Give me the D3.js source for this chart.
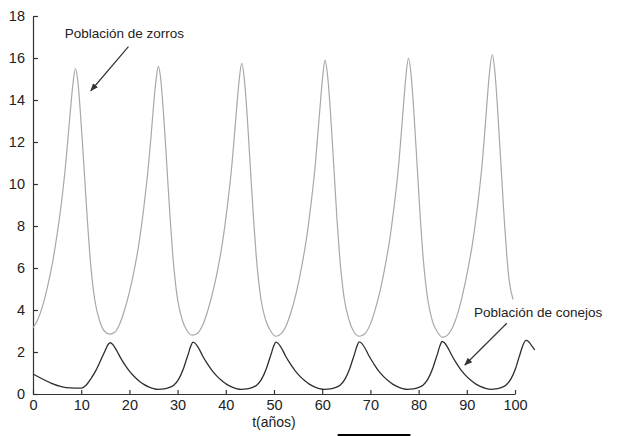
<!DOCTYPE html>
<html>
<head>
<meta charset="utf-8">
<script src="https://cdn.jsdelivr.net/npm/d3@7"></script>
<style>
body { margin: 0; background: #fff; }
svg { display: block; }
</style>
</head>
<body>
<script>
var margin = {top: 16, right: 109, bottom: 42, left: 33};
var W = 624, H = 436;
var w = W - margin.left - margin.right;
var h = H - margin.top - margin.bottom;

// poblacion de zorros (curva gris)
var tZorros = [0, 1, 2, 3, 4, 5, 6, 6.8, 7.3, 7.8, 8.3, 8.8, 9.3, 9.8, 10.3, 10.8, 11.3, 11.8, 12.3, 12.8, 13.8, 14.8, 15.9,
  17, 18, 19, 20, 21, 22, 23, 24, 24.5, 25, 25.5, 26, 26.5, 27, 27.5, 28, 28.5, 29, 29.5, 30, 31, 32, 33.1,
  34.3, 35.3, 36.3, 37.3, 38.3, 39.3, 40.3, 41.3, 41.8, 42.3, 42.8, 43.3, 43.8, 44.3, 44.8, 45.3, 45.8, 46.3, 46.8, 47.3, 48.3, 49.3, 50.4,
  51.6, 52.6, 53.6, 54.6, 55.6, 56.6, 57.6, 58.6, 59.1, 59.6, 60.1, 60.6, 61.1, 61.6, 62.1, 62.6, 63.1, 63.6, 64.1, 64.6, 65.6, 66.6, 67.7,
  68.9, 69.9, 70.9, 71.9, 72.9, 73.9, 74.9, 75.9, 76.4, 76.9, 77.4, 77.9, 78.4, 78.9, 79.4, 79.9, 80.4, 80.9, 81.4, 81.9, 82.9, 83.9, 85.0,
  86.2, 87.2, 88.2, 89.2, 90.2, 91.2, 92.2, 93.2, 93.7, 94.2, 94.7, 95.3, 95.8, 96.3, 96.8, 97.3, 97.8, 98.3, 98.8, 99.6];
var zorros = [3.15, 3.55, 4.2, 5.1, 6.2, 7.6, 9.3, 11.0, 12.3, 13.6, 14.8, 15.5, 14.9, 13.5, 11.8, 10.0, 8.2, 6.6, 5.4, 4.5, 3.5, 3.0, 2.85,
  2.95, 3.35, 4.0, 4.85, 5.9, 7.2, 8.9, 11.0, 12.3, 13.7, 14.9, 15.6, 15.0, 13.6, 11.9, 10.0, 8.2, 6.6, 5.4, 4.5, 3.5, 3.0, 2.8,
  2.93, 3.33, 4.0, 4.85, 5.9, 7.2, 8.9, 11.0, 12.35, 13.75, 15.0, 15.75, 15.1, 13.7, 11.9, 10.0, 8.2, 6.6, 5.4, 4.5, 3.5, 3.0, 2.75,
  2.9, 3.3, 3.95, 4.8, 5.9, 7.2, 8.9, 11.0, 12.4, 13.8, 15.1, 15.9, 15.2, 13.8, 12.0, 10.1, 8.2, 6.6, 5.4, 4.5, 3.5, 2.95, 2.75,
  2.88, 3.28, 3.95, 4.8, 5.9, 7.2, 8.9, 11.0, 12.4, 13.85, 15.2, 16.0, 15.3, 13.85, 12.0, 10.1, 8.2, 6.6, 5.4, 4.5, 3.45, 2.95, 2.7,
  2.85, 3.25, 3.9, 4.8, 5.9, 7.2, 8.9, 11.0, 12.4, 13.9, 15.3, 16.15, 15.4, 13.9, 12.0, 10.1, 8.2, 6.6, 5.4, 4.5];

// poblacion de conejos (curva oscura)
var tConejos = [0, 7.7, 10.1, 11, 12, 13, 14, 15, 15.5, 16,
  16.5, 17, 17.5, 18, 19, 20, 21, 22, 23, 24, 25, 26,
  27.2, 28.2, 29.2, 30.2, 31.2, 31.7, 32.2, 32.7, 33.2,
  33.7, 34.2, 34.7, 35.2, 36.2, 37.2, 38.2, 39.2, 40.2, 41.2, 42.2, 43.2,
  44.4, 45.4, 46.4, 47.4, 48.4, 48.9, 49.4, 49.9, 50.4,
  50.9, 51.4, 51.9, 52.4, 53.4, 54.4, 55.4, 56.4, 57.4, 58.4, 59.4, 60.5,
  61.7, 62.7, 63.7, 64.7, 65.7, 66.2, 66.7, 67.2, 67.7,
  68.2, 68.7, 69.2, 69.7, 70.7, 71.7, 72.7, 73.7, 74.7, 75.7, 76.7, 77.7,
  78.9, 79.9, 80.9, 81.9, 82.9, 83.4, 83.9, 84.4, 84.9,
  85.4, 85.9, 86.4, 86.9, 87.9, 88.9, 89.9, 90.9, 91.9, 92.9, 93.9, 94.9,
  96.1, 97.1, 98.1, 99.1, 100.1, 100.6, 101.1, 101.6, 102.3, 102.8, 103.4, 104.1];
var conejos = [0.95, 0.29, 0.28, 0.42, 0.72, 1.1, 1.58, 2.08, 2.33, 2.44,
  2.37, 2.21, 2.01, 1.79, 1.41, 1.09, 0.83, 0.62, 0.46, 0.34, 0.26, 0.22,
  0.24, 0.3, 0.42, 0.7, 1.2, 1.55, 1.9, 2.26, 2.47,
  2.4, 2.24, 2.04, 1.81, 1.43, 1.1, 0.84, 0.63, 0.46, 0.34, 0.26, 0.22,
  0.24, 0.3, 0.42, 0.7, 1.2, 1.55, 1.9, 2.26, 2.47,
  2.4, 2.24, 2.04, 1.81, 1.43, 1.1, 0.84, 0.63, 0.46, 0.34, 0.26, 0.22,
  0.24, 0.3, 0.42, 0.7, 1.2, 1.55, 1.9, 2.27, 2.48,
  2.41, 2.25, 2.05, 1.82, 1.44, 1.1, 0.84, 0.63, 0.46, 0.34, 0.26, 0.22,
  0.24, 0.3, 0.42, 0.7, 1.2, 1.55, 1.9, 2.28, 2.5,
  2.43, 2.27, 2.06, 1.83, 1.45, 1.11, 0.85, 0.64, 0.47, 0.35, 0.27, 0.22,
  0.24, 0.3, 0.42, 0.7, 1.2, 1.57, 1.94, 2.3, 2.55, 2.5, 2.32, 2.1];

var xTicks = [0, 10, 20, 30, 40, 50, 60, 70, 80, 90, 100];
var yTicks = [0, 2, 4, 6, 8, 10, 12, 14, 16, 18];
var xLabel = "t(años)";

// anotaciones en coordenadas de datos: texto, inicio y punta de la flecha
var notaZorros = {texto: "Población de zorros", tx: 6.6, ty: 16.95, x1: 19.8, y1: 16.54, x2: 12.0, y2: 14.44};
var notaConejos = {texto: "Población de conejos", tx: 91.5, ty: 3.68, x1: 98.3, y1: 3.37, x2: 89.6, y2: 1.38};

var xScale = d3.scaleLinear().domain([0, 100]).range([0, w]);
var yScale = d3.scaleLinear().domain([0, 18]).range([h, 0]);

var svg = d3.select("body").append("svg")
  .attr("width", W)
  .attr("height", H)
  .style("font-family", "'Liberation Sans', Arial, sans-serif");

svg.append("defs").append("marker")
  .attr("id", "flecha")
  .attr("viewBox", "0 0 10 10")
  .attr("refX", 9).attr("refY", 5)
  .attr("markerWidth", 8).attr("markerHeight", 8)
  .attr("markerUnits", "userSpaceOnUse")
  .attr("orient", "auto")
  .append("path")
  .attr("d", "M0,1L10,5L0,9Z")
  .attr("fill", "#333");

var g = svg.append("g")
  .attr("transform", "translate(" + margin.left + "," + margin.top + ")");

var xAxis = d3.axisBottom(xScale).tickValues(xTicks).tickSizeInner(-4).tickSizeOuter(0).tickPadding(6);
var yAxis = d3.axisLeft(yScale).tickValues(yTicks).tickSizeInner(-5).tickSizeOuter(0).tickPadding(8);

var gx = g.append("g").attr("transform", "translate(0," + h + ")").call(xAxis);
var gy = g.append("g").call(yAxis);

[gx, gy].forEach(function(a) {
  a.selectAll("path").attr("stroke", "#333").attr("stroke-width", 1.2);
  a.selectAll("line").attr("stroke", "#333").attr("stroke-width", 1.2);
  a.selectAll("text").attr("fill", "#222").style("font-size", "14.5px");
});

var linea = d3.line()
  .x(function(d) { return xScale(d[0]); })
  .y(function(d) { return yScale(d[1]); })
  .curve(d3.curveMonotoneX);

g.append("path")
  .datum(d3.zip(tZorros, zorros))
  .attr("fill", "none")
  .attr("stroke", "#a8a8a8")
  .attr("stroke-width", 1.2)
  .attr("d", linea);

g.append("path")
  .datum(d3.zip(tConejos, conejos))
  .attr("fill", "none")
  .attr("stroke", "#2e2e2e")
  .attr("stroke-width", 1.3)
  .attr("d", linea);

function nota(n) {
  g.append("text")
    .attr("x", xScale(n.tx))
    .attr("y", yScale(n.ty))
    .attr("fill", "#222")
    .style("font-size", "13.5px")
    .text(n.texto);
  g.append("line")
    .attr("x1", xScale(n.x1)).attr("y1", yScale(n.y1))
    .attr("x2", xScale(n.x2)).attr("y2", yScale(n.y2))
    .attr("stroke", "#333")
    .attr("stroke-width", 1.2)
    .attr("marker-end", "url(#flecha)");
}
nota(notaZorros);
nota(notaConejos);

g.append("text")
  .attr("x", w / 2)
  .attr("y", h + 33)
  .attr("text-anchor", "middle")
  .attr("fill", "#222")
  .style("font-size", "14px")
  .text(xLabel);

// barra negra bajo la etiqueta
g.append("rect")
  .attr("x", xScale(63.2))
  .attr("y", h + 40)
  .attr("width", xScale(78.3) - xScale(63.2))
  .attr("height", 3)
  .attr("fill", "#000");
</script>
</body>
</html>
